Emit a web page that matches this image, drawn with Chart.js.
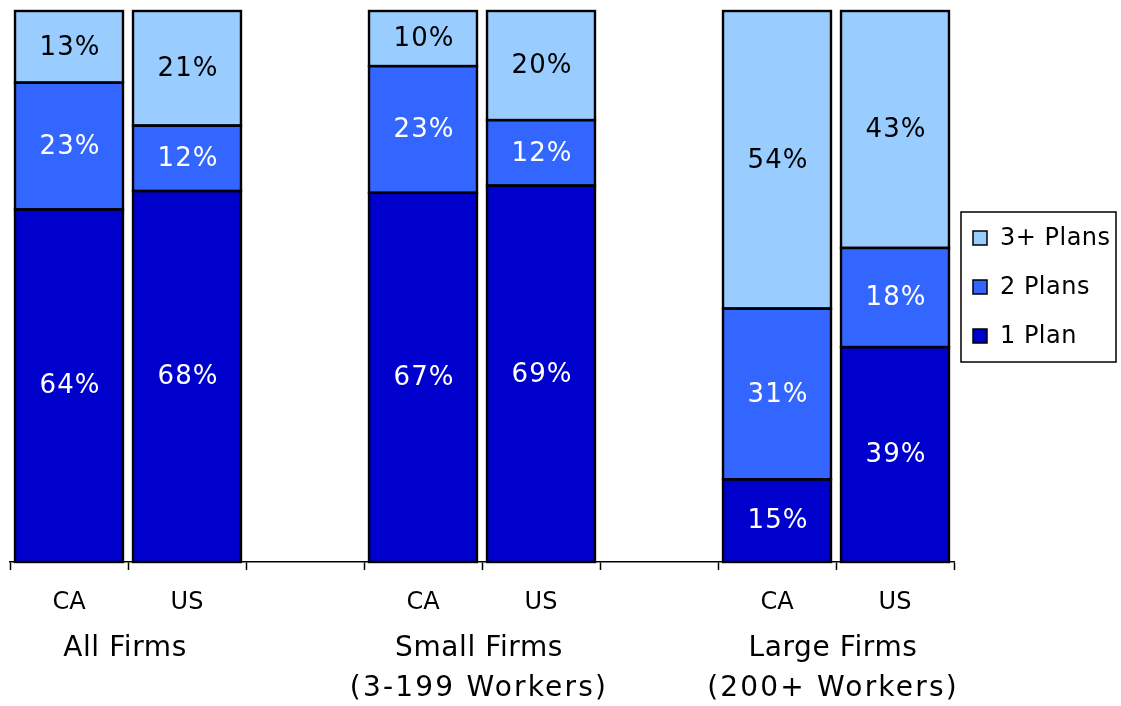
<!DOCTYPE html>
<html>
<head>
<meta charset="utf-8">
<script src="https://cdn.jsdelivr.net/npm/chart.js@4/dist/chart.umd.min.js"></script>
<style>
  html, body { margin: 0; padding: 0; background: #fff; }
  canvas { display: block; }
</style>
</head>
<body>
<canvas id="plansChart" width="1121" height="706"></canvas>
<script>
// bar slots: blank slots separate the three firm groups
const categories = ['CA', 'US', '', 'CA', 'US', '', 'CA', 'US'];
const groupLabels = [
    { slots: [0, 1], lines: ['All Firms'] },
    { slots: [3, 4], lines: ['Small Firms', '(3-199 Workers)'] },
    { slots: [6, 7], lines: ['Large Firms', '(200+ Workers)'] }
];

// shares in percent, as printed on the bars
const onePlan   = [64, 68, null, 67, 69, null, 15, 39];
const twoPlans  = [23, 12, null, 23, 12, null, 31, 18];
const threePlus = [13, 21, null, 10, 20, null, 54, 43];

const seriesNames = ['1 Plan', '2 Plans', '3+ Plans'];
const seriesColors = ['#0000CC', '#3366FF', '#99CCFF'];
const labelColors = ['#ffffff', '#ffffff', '#000000'];

const FONT = '"DejaVu Sans", Verdana, sans-serif';

// 100% stacked: each bar is scaled to its own total
const raw = [onePlan, twoPlans, threePlus];
const totals = categories.map((_, i) => raw.reduce((s, arr) => s + (arr[i] || 0), 0));
const datasets = raw.map((arr, k) => ({
    label: seriesNames[k],
    data: arr.map((v, i) => (v == null ? null : v / totals[i])),
    rawValues: arr,
    backgroundColor: seriesColors[k],
    borderWidth: 0,
    inflateAmount: 0,
    categoryPercentage: 1.0,
    barPercentage: 0.915
}));

// black outlines on every segment, shared edges drawn once
const segmentOutlines = {
    id: 'segmentOutlines',
    afterDatasetsDraw(chart) {
        const ctx = chart.ctx;
        ctx.save();
        ctx.strokeStyle = '#000';
        ctx.lineWidth = 2.4;
        chart.data.datasets.forEach((ds, k) => {
            chart.getDatasetMeta(k).data.forEach((bar, i) => {
                if (ds.rawValues[i] == null) return;
                const p = bar.getProps(['x', 'y', 'base', 'width'], true);
                ctx.strokeRect(p.x - p.width / 2, p.y, p.width, p.base - p.y);
            });
        });
        ctx.restore();
    }
};

// percent labels in the middle of each segment
const valueLabels = {
    id: 'valueLabels',
    afterDatasetsDraw(chart) {
        const ctx = chart.ctx;
        ctx.save();
        ctx.font = '26px ' + FONT;
        ctx.letterSpacing = '1px';
        ctx.textAlign = 'center';
        ctx.textBaseline = 'middle';
        chart.data.datasets.forEach((ds, k) => {
            chart.getDatasetMeta(k).data.forEach((bar, i) => {
                const v = ds.rawValues[i];
                if (v == null) return;
                const yMid = (bar.y + bar.base) / 2;
                ctx.fillStyle = labelColors[k];
                ctx.fillText(v + '%', bar.x + 1, yMid + 1);
            });
        });
        ctx.restore();
    }
};

// group captions under the CA / US ticks
const groupCaptions = {
    id: 'groupCaptions',
    afterDraw(chart) {
        const ctx = chart.ctx;
        const xs = chart.scales.x;
        ctx.save();
        ctx.font = '28px ' + FONT;
        ctx.fillStyle = '#000';
        ctx.textAlign = 'center';
        ctx.textBaseline = 'middle';
        groupLabels.forEach(g => {
            const x = (xs.getPixelForValue(g.slots[0]) + xs.getPixelForValue(g.slots[1])) / 2 - 3;
            g.lines.forEach((line, j) => {
                ctx.letterSpacing = j === 0 ? '0.6px' : '2.2px';
                ctx.fillText(line, x, 649 + j * 40);
            });
        });
        ctx.restore();
    }
};

// boxed legend on the right, top entry first
const boxLegend = {
    id: 'boxLegend',
    afterDraw(chart) {
        const ctx = chart.ctx;
        const left = 961, top = 212, w = 155, h = 150;
        ctx.save();
        ctx.strokeStyle = '#000';
        ctx.lineWidth = 1.5;
        ctx.strokeRect(left, top, w, h);
        ctx.font = '24px ' + FONT;
        ctx.letterSpacing = '0.5px';
        ctx.textBaseline = 'middle';
        ctx.textAlign = 'left';
        const order = [2, 1, 0];
        order.forEach((k, row) => {
            const y = 238 + row * 49;
            ctx.fillStyle = seriesColors[k];
            ctx.fillRect(973, y - 7, 14, 14);
            ctx.lineWidth = 1.5;
            ctx.strokeRect(973, y - 7, 14, 14);
            ctx.fillStyle = '#000';
            ctx.fillText(chart.data.datasets[k].label, 1000, y + 1);
        });
        ctx.restore();
    }
};

new Chart(document.getElementById('plansChart').getContext('2d'), {
    type: 'bar',
    data: { labels: categories, datasets: datasets },
    options: {
        responsive: false,
        animation: false,
        layout: { padding: { top: 11, left: 10, right: 167, bottom: 0 } },
        plugins: {
            legend: { display: false },
            tooltip: { enabled: false }
        },
        scales: {
            x: {
                stacked: true,
                offset: true,
                grid: {
                    display: true,
                    offset: true,
                    drawOnChartArea: false,
                    drawTicks: true,
                    tickLength: 8,
                    tickWidth: 1.5,
                    tickColor: '#000'
                },
                border: { display: true, color: '#000', width: 1.5 },
                ticks: {
                    color: '#000',
                    font: { family: FONT, size: 24 },
                    padding: 18,
                    maxRotation: 0,
                    autoSkip: false
                },
                afterFit(scale) { scale.height = 144; }
            },
            y: {
                stacked: true,
                display: false,
                min: 0,
                max: 1
            }
        }
    },
    plugins: [segmentOutlines, valueLabels, groupCaptions, boxLegend]
});
</script>
</body>
</html>
